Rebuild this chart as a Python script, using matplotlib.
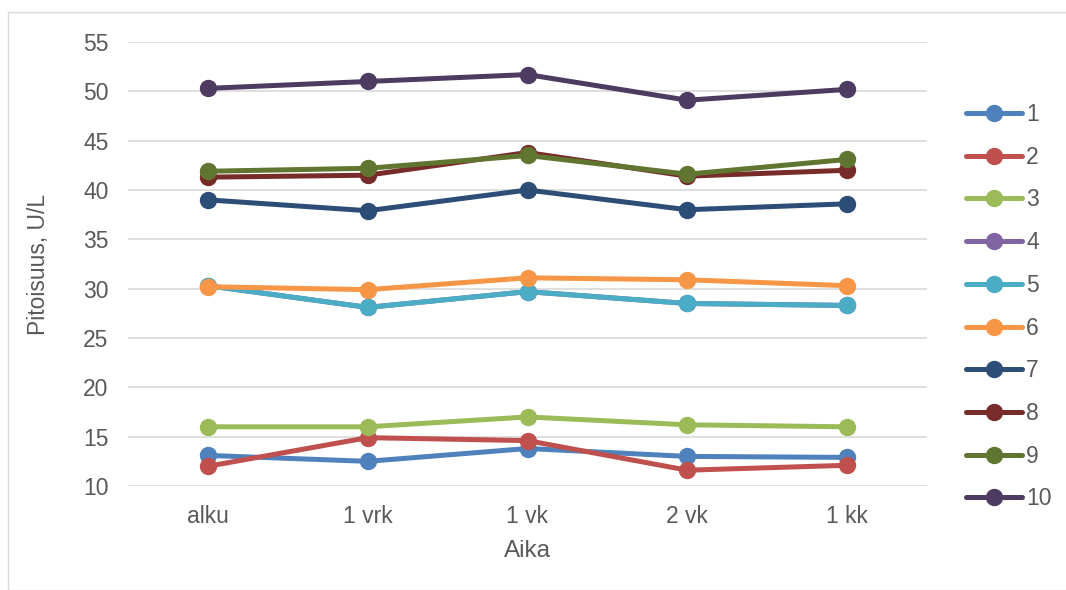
import matplotlib
matplotlib.use("Agg")
import matplotlib.pyplot as plt
from matplotlib.patches import Rectangle

categories = ["alku", "1 vrk", "1 vk", "2 vk", "1 kk"]
series_names = ["1", "2", "3", "4", "5", "6", "7", "8", "9", "10"]
s1 = [13.1, 12.5, 13.8, 13.0, 12.9]
s2 = [12.0, 14.9, 14.6, 11.6, 12.1]
s3 = [16.0, 16.0, 17.0, 16.2, 16.0]
s4 = [30.3, 28.1, 29.7, 28.5, 28.3]
s5 = [30.3, 28.1, 29.7, 28.5, 28.3]
s6 = [30.2, 29.9, 31.1, 30.9, 30.3]
s7 = [39.0, 37.9, 40.0, 38.0, 38.6]
s8 = [41.3, 41.5, 43.8, 41.4, 42.0]
s9 = [41.9, 42.2, 43.5, 41.6, 43.1]
s10 = [50.3, 51.0, 51.7, 49.1, 50.2]
series = [s1, s2, s3, s4, s5, s6, s7, s8, s9, s10]
colors = ["#4F81BD", "#C0504D", "#9BBB59", "#8064A2", "#4BACC6",
          "#F79646", "#2C4D75", "#772C2A", "#5F7530", "#4D3B62"]

plt.rcParams['font.family'] = ['Liberation Sans', 'DejaVu Sans']
txt = "#595959"

fig = plt.figure(figsize=(10.66, 5.9), dpi=100)
ax = fig.add_axes([128/1066, (590-486)/590, (927-128)/1066, (486-42)/590])

x = list(range(len(categories)))
for name, vals, c in zip(series_names, series, colors):
    ax.plot(x, vals, color=c, lw=3.6, marker='o', ms=11.5, label=name,
            solid_capstyle='round')

ax.set_xlim(-0.5, len(categories) - 0.5)
ax.set_ylim(10, 55)
ax.set_yticks(range(10, 56, 5))
ax.set_xticks(x)
ax.set_xticklabels(categories)
ax.grid(axis='y', color='#D9D9D9', lw=1.2)
ax.set_axisbelow(True)
for sp in ax.spines.values():
    sp.set_visible(False)
ax.tick_params(axis='y', length=0, labelsize=16.5, colors=txt, pad=14)
ax.tick_params(axis='x', length=0, labelsize=16.5, colors=txt, pad=14)
ax.set_ylabel("Pitoisuus, U/L", fontsize=16.5, color=txt, labelpad=24)
ax.set_xlabel("Aika", fontsize=17.5, color=txt, labelpad=8)

leg = fig.legend(loc='upper left', bbox_to_anchor=(966/1066, (590-103)/590),
                 frameon=False, fontsize=16.5, handlelength=2.45,
                 handletextpad=0.17, labelspacing=0.86, borderaxespad=0,
                 borderpad=0)
for t in leg.get_texts():
    t.set_color(txt)

fig.patches.append(Rectangle((8/1066, 0), 1.0, (590-12)/590, transform=fig.transFigure,
                             fill=False, edgecolor='#D9D9D9', lw=1))

fig.savefig("out.png", dpi=100)
